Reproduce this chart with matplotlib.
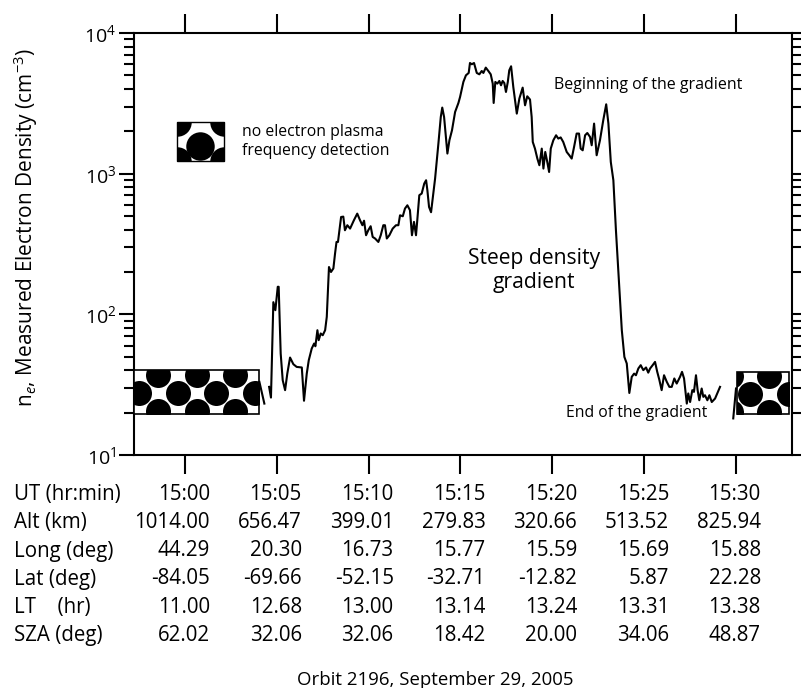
import numpy as np
import matplotlib
matplotlib.use('Agg')
import matplotlib.pyplot as plt
from matplotlib.patches import Rectangle
from matplotlib import transforms
from matplotlib.ticker import FixedLocator, NullFormatter, FuncFormatter

plt.rcParams['font.family'] = ['Open Sans', 'DejaVu Sans']
plt.rcParams['mathtext.fontset'] = 'custom'
plt.rcParams['mathtext.rm'] = 'Open Sans'
plt.rcParams['mathtext.it'] = 'Open Sans:italic'

# time in minutes after 15:00 UT, density in cm^-3
seg_a_t = [4.05, 4.32]
seg_a_n = [33.1, 23.2]

main_t = [4.58, 4.68, 4.81, 4.92, 5.05, 5.10, 5.21, 5.32, 5.45, 5.57,
          5.72, 5.90, 6.08, 6.36, 6.48, 6.63, 6.74, 6.90, 7.03, 7.10,
          7.21, 7.28, 7.39, 7.50, 7.63, 7.72, 7.84, 7.95, 8.08, 8.17,
          8.25, 8.33, 8.50, 8.62, 8.71, 8.84, 8.99, 9.20, 9.38, 9.53,
          9.66, 9.75, 9.86, 9.98, 10.11, 10.22, 10.35, 10.53, 10.66, 10.80,
          10.89, 10.99, 11.13, 11.31, 11.49, 11.62, 11.71, 11.86, 11.98, 12.11,
          12.25, 12.36, 12.47, 12.58, 12.65, 12.76, 12.89, 13.03, 13.13, 13.20,
          13.29, 13.40, 13.62, 13.80, 13.93, 14.01, 14.11, 14.29, 14.40, 14.54,
          14.71, 14.89, 14.98, 15.16, 15.30, 15.45, 15.52, 15.62, 15.74, 15.89,
          16.03, 16.16, 16.25, 16.38, 16.52, 16.65, 16.76, 16.81, 16.90, 17.01,
          17.12, 17.21, 17.30, 17.39, 17.48, 17.58, 17.66, 17.76, 17.88, 18.07,
          18.21, 18.39, 18.52, 18.64, 18.79, 18.88, 18.94, 19.06, 19.19, 19.30,
          19.43, 19.52, 19.62, 19.73, 19.83, 19.92, 20.06, 20.21, 20.33, 20.46,
          20.60, 20.79, 20.93, 21.06, 21.19, 21.33, 21.46, 21.55, 21.66, 21.79,
          21.91, 22.06, 22.15, 22.28, 22.42, 22.60, 22.78, 22.94, 23.06, 23.19,
          23.33, 23.47, 23.62, 23.79, 23.93, 24.06, 24.20, 24.33, 24.46, 24.56,
          24.69, 24.82, 24.96, 25.11, 25.23, 25.33, 25.47, 25.60, 25.72, 25.83,
          25.96, 26.09, 26.24, 26.38, 26.51, 26.65, 26.78, 26.96, 27.07, 27.18,
          27.33, 27.41, 27.51, 27.63, 27.72, 27.83, 27.92, 28.01, 28.14, 28.23,
          28.32, 28.45, 28.56, 28.69, 28.87, 28.99, 29.14]
main_n = [30.5, 25.6, 122, 107, 157, 157, 52.6, 34.0, 28.9, 37.9,
          49.3, 44.2, 42.3, 41.9, 24.3, 37.9, 47.2, 57.1, 62.0, 59.3,
          77.1, 65.5, 73.1, 71.0, 77.1, 95.9, 217, 200, 212, 270,
          327, 327, 492, 495, 396, 430, 407, 467, 520, 467,
          430, 463, 365, 396, 423, 355, 346, 327, 365, 430,
          430, 346, 365, 407, 430, 430, 506, 498, 565, 596,
          550, 365, 454, 365, 467, 703, 722, 851, 898, 762,
          580, 532, 923, 1637, 2529, 2951, 2529, 1390, 1727, 2033,
          2746, 3181, 3508, 4487, 5003, 5200, 6120, 5995, 6120, 5200,
          5085, 5370, 5200, 5675, 5370, 5085, 4366, 3181, 4487, 4366,
          4560, 4249, 4560, 4411, 3808, 4487, 5430, 5800, 4130, 2673,
          3420, 4090, 3062, 3548, 3365, 2529, 1680, 1507, 1280, 1148,
          1507, 1087, 1426, 1211, 1028, 1507, 1727, 1875, 1776, 1810,
          1680, 1426, 1352, 1280, 1549, 1928, 1928, 1507, 1466, 1875,
          1946, 1824, 1592, 2270, 1352, 1727, 2399, 3112, 2270, 1211,
          898, 396, 184, 77.1, 49.8, 44.7, 27.6, 35.9, 37.9, 36.9,
          41.2, 43.5, 40.1, 41.9, 38.5, 41.2, 43.5, 45.9, 39.0, 34.4,
          28.9, 36.9, 33.1, 30.5, 30.5, 35.0, 32.2, 35.9, 39.0, 35.0,
          23.2, 27.4, 23.8, 28.9, 28.1, 36.9, 28.9, 24.5, 29.7, 25.9,
          26.6, 24.5, 26.6, 23.8, 25.2, 27.4, 30.5]

seg_c_t = [29.86, 30.01]
seg_c_n = [18.2, 29.7]

# no-detection intervals (minutes after 15:00) and density span of the boxes
gap_left = (-2.78, 4.03)
gap_right = (30.07, 32.9)
gap_n = (19.5, 40)

tick_min = [0, 5, 10, 15, 20, 25, 30]
row_labels = ['UT (hr:min)', 'Alt (km)', 'Long (deg)', 'Lat (deg)', 'LT    (hr)', 'SZA (deg)']
ut = ['15:00', '15:05', '15:10', '15:15', '15:20', '15:25', '15:30']
alt = ['1014.00', '656.47', '399.01', '279.83', '320.66', '513.52', '825.94']
lon = ['44.29', '20.30', '16.73', '15.77', '15.59', '15.69', '15.88']
lat = ['-84.05', '-69.66', '-52.15', '-32.71', '-12.82', '5.87', '22.28']
lt = ['11.00', '12.68', '13.00', '13.14', '13.24', '13.31', '13.38']
sza = ['62.02', '32.06', '32.06', '18.42', '20.00', '34.06', '48.87']

fig = plt.figure(figsize=(8.01, 6.88), dpi=100)
ax = fig.add_axes([134 / 801, 1 - 455 / 688, 658 / 801, 422 / 688])

ax.set_yscale('log')
ax.set_xlim(-2.78, 33.06)
ax.set_ylim(10, 10000)

lw = 1.5
ax.plot(seg_a_t, seg_a_n, color='black', lw=lw, zorder=4)
ax.plot(main_t, main_n, color='black', lw=lw, zorder=4)
ax.plot(seg_c_t, seg_c_n, color='black', lw=lw, zorder=4)

for s in ax.spines.values():
    s.set_linewidth(1.5)

ax.xaxis.set_major_locator(FixedLocator(tick_min))
ax.xaxis.set_major_formatter(NullFormatter())
ax.tick_params(axis='x', which='major', direction='out', length=13.5, width=1.5,
               top=True, bottom=True)
ax.yaxis.set_major_locator(FixedLocator([10, 100, 1000, 10000]))
ax.yaxis.set_minor_locator(FixedLocator([m * 10 ** d for d in range(1, 4) for m in range(2, 10)]))
ax.yaxis.set_major_formatter(FuncFormatter(lambda v, p: '$10^{%d}$' % round(np.log10(v))))
ax.yaxis.set_minor_formatter(NullFormatter())
ax.tick_params(axis='y', which='major', direction='out', length=10.8, width=1.5,
               left=True, right=True, labelsize=14, pad=2)
ax.tick_params(axis='y', which='minor', direction='out', length=7.2, width=1.5,
               left=True, right=True)


def dotted_box(x0, x1, y0, y1, phase):
    rect = Rectangle((x0, y0), x1 - x0, y1 - y0, facecolor='white',
                     edgecolor='black', lw=1.2, zorder=3)
    ax.add_patch(rect)
    px0, py0 = ax.transData.transform((x0, y0))
    px1, py1 = ax.transData.transform((x1, y1))
    dx, dy = 38.5, 18.0
    xs, ys = [], []
    for j, cy in enumerate([py1 - 4.5, py1 - 22.5, py1 - 40.5]):
        off = phase if j == 1 else phase + dx / 2
        cx = px0 + off - dx
        while cx < px1 + dx:
            xs.append(cx)
            ys.append(cy)
            cx += dx
    sc = ax.scatter(xs, ys, s=324, c='black', linewidths=0, zorder=3,
                    transform=transforms.IdentityTransform())
    sc.set_clip_path(rect)


dotted_box(gap_left[0], gap_left[1], gap_n[0], gap_n[1], 5)
dotted_box(gap_right[0], gap_right[1], gap_n[0], 39, 13)

# legend swatch
leg = Rectangle((0.0653, 0.697), 0.0715, 0.092, transform=ax.transAxes,
                facecolor='white', edgecolor='black', lw=1.0, zorder=3)
ax.add_patch(leg)
lx0, ly0 = ax.transAxes.transform((0.0653, 0.697))
lx1, ly1 = ax.transAxes.transform((0.0653 + 0.0715, 0.697 + 0.092))
cxs = [lx0, lx1, lx0, lx1, (lx0 + lx1) / 2]
cys = [ly0, ly0, ly1, ly1, (ly0 + ly1) / 2 - 5]
lsc = ax.scatter(cxs, cys, s=420, c='black', linewidths=0, zorder=3,
                 transform=transforms.IdentityTransform())
lsc.set_clip_path(leg)
ax.text(0.164, 0.744, 'no electron plasma\nfrequency detection', transform=ax.transAxes,
        fontsize=11.3, va='center', ha='left', linespacing=1.25)

ax.text(20.1, 4250, 'Beginning of the gradient', fontsize=11.5, va='center', ha='left')
ax.text(19.0, 205, 'Steep density\ngradient', fontsize=15.2, va='center', ha='center',
        linespacing=1.2)
ax.text(20.76, 20, 'End of the gradient', fontsize=11.3, va='center', ha='left')

fig.text(26 / 801, 1 - 228 / 688, r'n$_{\mathit{e}}$, Measured Electron Density (cm$^{-3}$)',
         rotation=90, va='center', ha='center', fontsize=15)

# ephemeris table under the axis
tr = transforms.offset_copy(transforms.blended_transform_factory(ax.transData, fig.transFigure),
                            fig=fig, x=25, y=0, units='dots')
row_base = [500, 528.3, 556.5, 584.5, 612.7, 641]
rows = [ut, alt, lon, lat, lt, sza]
for label, vals, yp in zip(row_labels, rows, row_base):
    fy = 1 - yp / 688
    fig.text(14 / 801, fy, label, fontsize=14.8, va='baseline', ha='left')
    for t, v in zip(tick_min, vals):
        ax.text(t, fy, v, transform=tr, fontsize=14.8, va='baseline', ha='right', clip_on=False)

fig.text(297 / 801, 1 - 685 / 688, 'Orbit 2196, September 29, 2005', fontsize=13.4,
         va='baseline', ha='left')

fig.savefig('out.png', dpi=100)
